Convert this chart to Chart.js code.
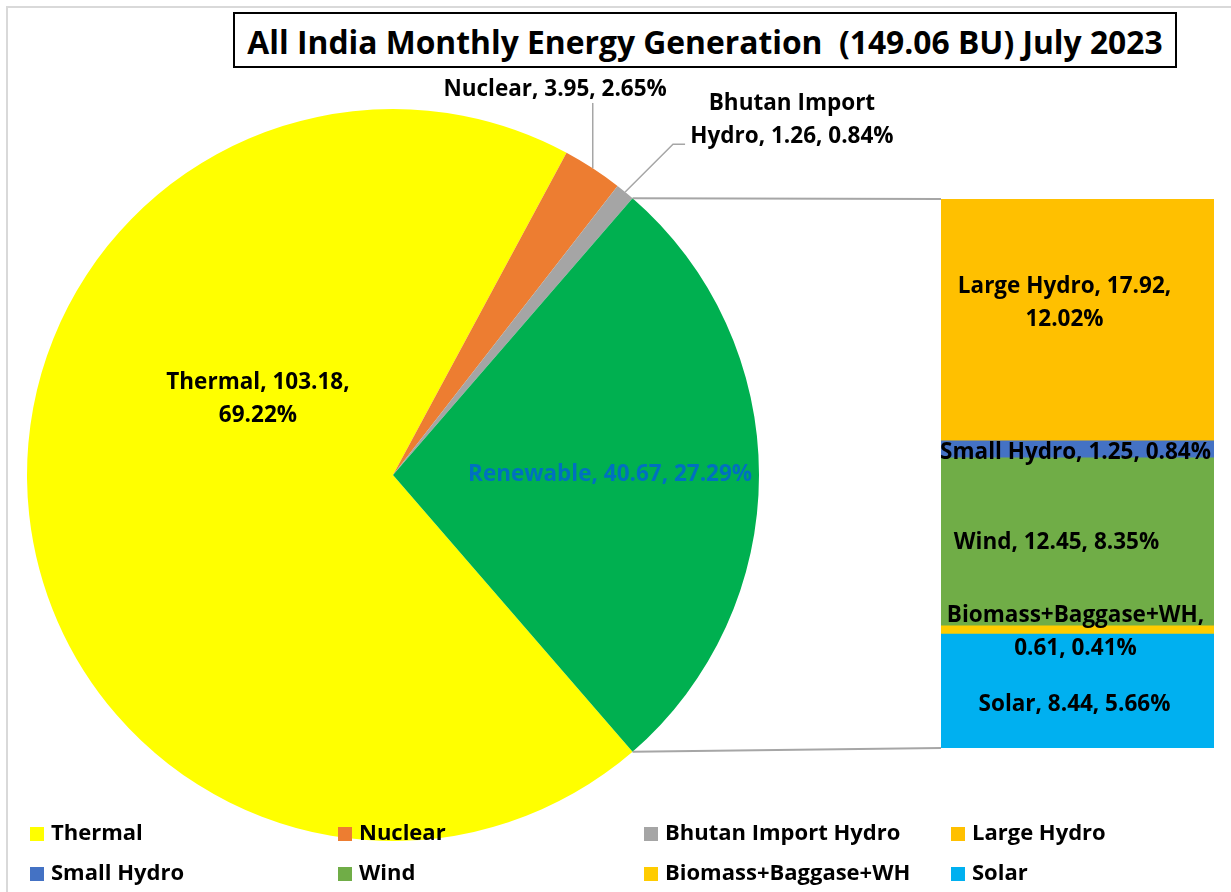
<!DOCTYPE html>
<html>
<head>
<meta charset="utf-8">
<script src="https://cdn.jsdelivr.net/npm/chart.js@4.4.0/dist/chart.umd.min.js"></script>
<style>
  body { margin: 0; background: #fff; font-family: "Open Sans", Lato, sans-serif; }
  #wrap { position: relative; width: 1231px; height: 892px; overflow: hidden; background: #fff; }
  #frame { position: absolute; left: 6px; top: 6px; width: 1400px; height: 1000px;
           border-left: 2px solid #d9d9d9; border-top: 2px solid #d9d9d9; }
  canvas { position: absolute; left: 0; top: 0; }
  #title { position: absolute; left: 233px; top: 12px; width: 940px; height: 52px;
           border: 2.5px solid #000; background: #fff; text-align: center;
           font-weight: bold; font-size: 31.8px; line-height: 55px; color: #000; white-space: nowrap; }
  .leg { position: absolute; font-weight: bold; font-size: 22px; color: #000; white-space: nowrap;
         line-height: 24px; }
  .leg i { display: inline-block; width: 14px; height: 14px; margin-right: 7px; vertical-align: -1px; }
</style>
</head>
<body>
<div id="wrap">
  <div id="frame"></div>
  <canvas id="pieChart" width="1231" height="892"></canvas>
  <canvas id="barChart" width="1231" height="892"></canvas>
  <div id="title">All India Monthly Energy Generation &nbsp;(149.06 BU) July 2023</div>
  <div id="legend"></div>
</div>
<script>
// ---- data ----
const categories = ["Thermal", "Nuclear", "Bhutan Import Hydro", "Renewable"];
const pieValues = [103.18, 3.95, 1.26, 40.67];
const piePercents = ["69.22%", "2.65%", "0.84%", "27.29%"];
const pieColors = ["#FFFF00", "#ED7D31", "#A5A5A5", "#00B050"];

const renewCategories = ["Large Hydro", "Small Hydro", "Wind", "Biomass+Baggase+WH", "Solar"];
const renewValues = [17.92, 1.25, 12.45, 0.61, 8.44];
const renewPercents = ["12.02%", "0.84%", "8.35%", "0.41%", "5.66%"];
const renewColors = ["#FFC000", "#4472C4", "#70AD47", "#FFCC00", "#00B0F0"];

// ---- label layout (offsets in units of pie radius / pixels for the bar) ----
const pieLabelPos = [[-0.369, -0.208], [0.443, -1.052], [1.090, -0.969], [0.593, 0]];
const pieLabelBreak = [2, 0, 2, 0];
const pieLabelColor = ["#000", "#000", "#000", "#0070C0"];
const barLabelOffset = [[-13, -17], [-2, 3], [-21, 1], [-2, 2], [-3, 14]];
const barLabelBreak = [3, 0, 0, 1, 0];
const LINE_H = 33;
const LABEL_FONT = "bold 22.5px 'Open Sans', Lato, sans-serif";

function labelLines(name, value, pct, brk) {
  const words = (name + ", " + value + ", " + pct).split(" ");
  if (!brk) return [words.join(" ")];
  return [words.slice(0, brk).join(" "), words.slice(brk).join(" ")];
}

function drawLines(ctx, lines, x, y, color) {
  ctx.save();
  ctx.font = LABEL_FONT;
  ctx.fillStyle = color;
  ctx.textAlign = "center";
  ctx.textBaseline = "middle";
  const y0 = y - (lines.length - 1) * LINE_H / 2;
  lines.forEach((l, i) => ctx.fillText(l, x, y0 + i * LINE_H));
  ctx.restore();
}

// ---- pie ----
const total = pieValues.reduce((a, b) => a + b, 0);
const renewIdx = categories.indexOf("Renewable");
const before = pieValues.slice(0, renewIdx).reduce((a, b) => a + b, 0);
const rotation = 90 - (pieValues[renewIdx] / 2 + before) / total * 360;

const pieLabels = {
  id: "pieLabels",
  afterDatasetsDraw(chart) {
    const ctx = chart.ctx;
    const arcs = chart.getDatasetMeta(0).data;
    const cx = arcs[0].x, cy = arcs[0].y, r = arcs[0].outerRadius;
    // leader lines for the thin slices
    ctx.save();
    ctx.strokeStyle = "#A6A6A6";
    ctx.lineWidth = 1.5;
    [1, 2].forEach(i => {
      const a = (arcs[i].startAngle + arcs[i].endAngle) / 2;
      const ex = cx + r * Math.cos(a), ey = cy + r * Math.sin(a);
      ctx.beginPath();
      ctx.moveTo(ex, ey);
      if (i === 1) {
        ctx.lineTo(ex, cy + pieLabelPos[i][1] * r + 13);
      } else {
        ctx.lineTo(cx + 0.765 * r, cy - 0.904 * r);
        ctx.lineTo(cx + 0.798 * r, cy - 0.904 * r);
      }
      ctx.stroke();
    });
    ctx.restore();
    categories.forEach((c, i) => {
      const lines = labelLines(c, pieValues[i], piePercents[i], pieLabelBreak[i]);
      drawLines(ctx, lines, cx + pieLabelPos[i][0] * r, cy + pieLabelPos[i][1] * r, pieLabelColor[i]);
    });
  }
};

const pieChart = new Chart(document.getElementById("pieChart"), {
  type: "pie",
  data: {
    labels: categories,
    datasets: [{ data: pieValues, backgroundColor: pieColors, borderWidth: 0, hoverOffset: 0 }]
  },
  options: {
    responsive: false,
    animation: false,
    rotation: rotation,
    layout: { padding: { left: 27, top: 109, right: 472, bottom: 51 } },
    plugins: { legend: { display: false }, tooltip: { enabled: false } },
    events: []
  },
  plugins: [pieLabels]
});

// ---- bar of pie ----
const barOrder = renewCategories.map((c, i) => i).reverse(); // bottom-up stacking
const renewTotal = renewValues.reduce((a, b) => a + b, 0);

const barExtras = {
  id: "barExtras",
  beforeDatasetsDraw(chart) {
    const ctx = chart.ctx;
    const arc = pieChart.getDatasetMeta(0).data[renewIdx];
    const topBar = chart.getDatasetMeta(chart.data.datasets.length - 1).data[0];
    const botBar = chart.getDatasetMeta(0).data[0];
    const left = topBar.x - topBar.width / 2;
    ctx.save();
    ctx.strokeStyle = "#A6A6A6";
    ctx.lineWidth = 2;
    ctx.beginPath();
    ctx.moveTo(arc.x + arc.outerRadius * Math.cos(arc.startAngle), arc.y + arc.outerRadius * Math.sin(arc.startAngle));
    ctx.lineTo(left, topBar.y);
    ctx.moveTo(arc.x + arc.outerRadius * Math.cos(arc.endAngle), arc.y + arc.outerRadius * Math.sin(arc.endAngle));
    ctx.lineTo(left, botBar.base);
    ctx.stroke();
    ctx.restore();
  },
  afterDatasetsDraw(chart) {
    chart.data.datasets.forEach((ds, d) => {
      const i = barOrder[d];
      const el = chart.getDatasetMeta(d).data[0];
      const lines = labelLines(renewCategories[i], renewValues[i], renewPercents[i], barLabelBreak[i]);
      drawLines(chart.ctx, lines, el.x + barLabelOffset[i][0], (el.y + el.base) / 2 + barLabelOffset[i][1], "#000");
    });
  }
};

new Chart(document.getElementById("barChart"), {
  type: "bar",
  data: {
    labels: ["Renewable"],
    datasets: barOrder.map(i => ({
      label: renewCategories[i],
      data: [renewValues[i]],
      backgroundColor: renewColors[i],
      borderWidth: 0,
      barPercentage: 1,
      categoryPercentage: 1
    }))
  },
  options: {
    responsive: false,
    animation: false,
    layout: { padding: { left: 941, right: 17, top: 199, bottom: 144 } },
    scales: {
      x: { display: false, stacked: true },
      y: { display: false, stacked: true, min: 0, max: renewTotal }
    },
    plugins: { legend: { display: false }, tooltip: { enabled: false } },
    events: []
  },
  plugins: [barExtras]
});

// ---- legend ----
const legendNames = categories.filter(c => c !== "Renewable").concat(renewCategories);
const legendColors = pieColors.filter((c, i) => categories[i] !== "Renewable").concat(renewColors);
const colX = [30, 338, 644, 951];
const rowY = [819, 859];
const legend = document.getElementById("legend");
legendNames.forEach((n, i) => {
  const d = document.createElement("div");
  d.className = "leg";
  d.style.left = colX[i % 4] + "px";
  d.style.top = rowY[Math.floor(i / 4)] + "px";
  d.innerHTML = '<i style="background:' + legendColors[i] + '"></i>' + n;
  legend.appendChild(d);
});
</script>
</body>
</html>
